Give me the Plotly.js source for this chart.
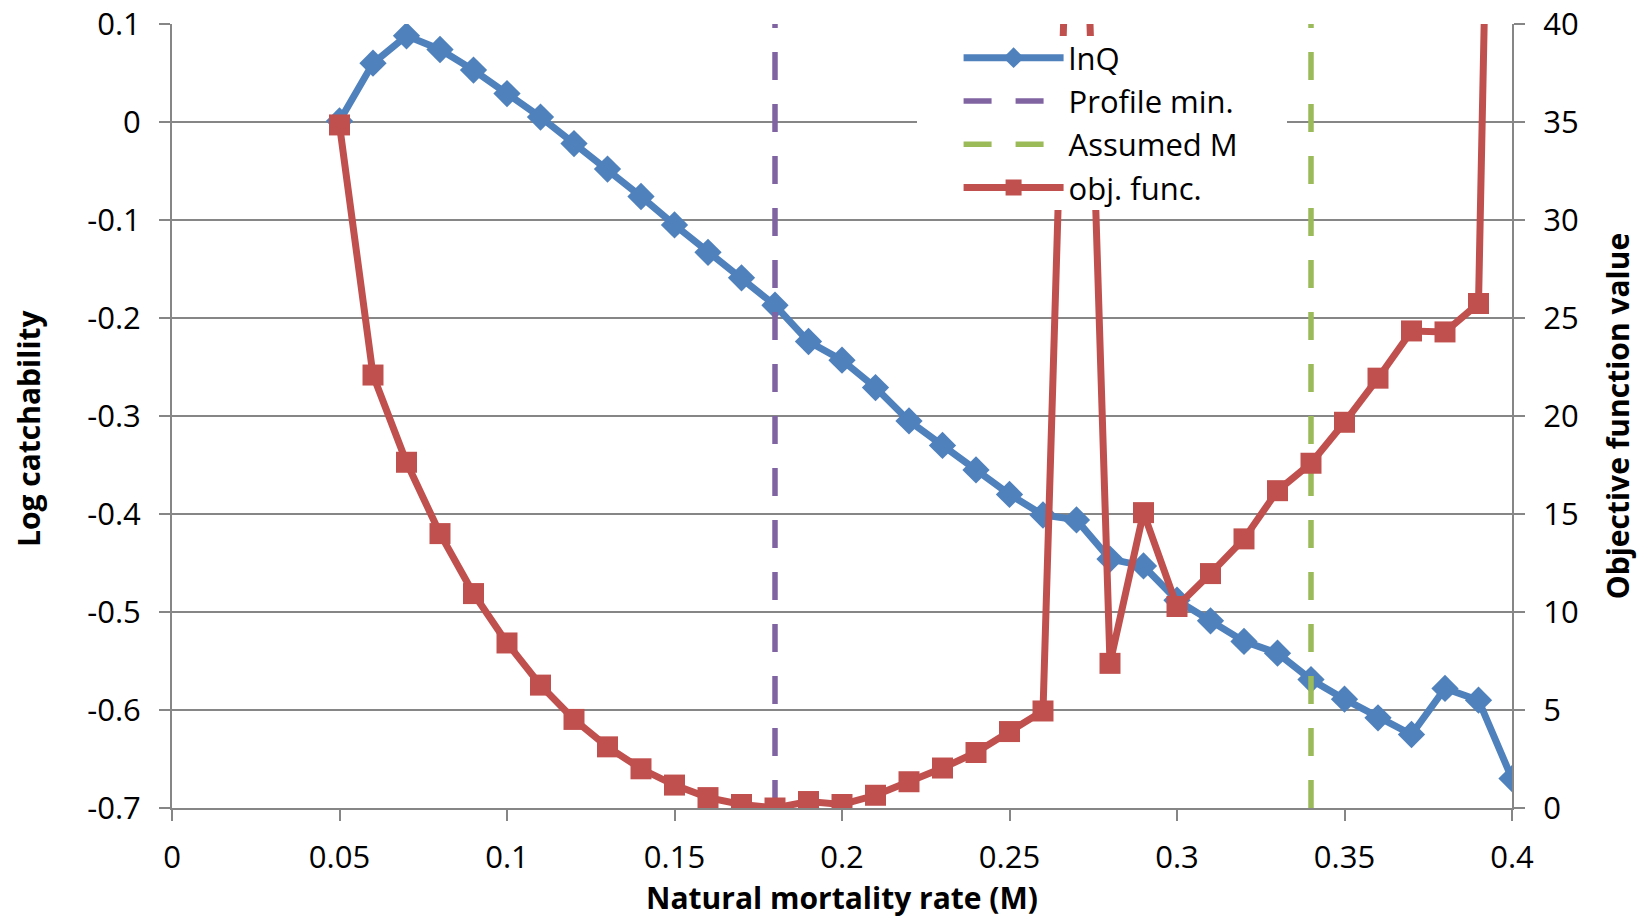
<!DOCTYPE html>
<html>
<head>
<meta charset="utf-8">
<script src="https://cdn.plot.ly/plotly-3.0.1.min.js"></script>
<style>
  html, body { margin: 0; padding: 0; background: #ffffff; }
  #chart { width: 1647px; height: 919px; }
</style>
</head>
<body>
<div id="chart"></div>
<script>
// Natural mortality profile: M grid, log catchability and objective function
const mortality = [0.05, 0.06, 0.07, 0.08, 0.09, 0.10, 0.11, 0.12, 0.13, 0.14,
                   0.15, 0.16, 0.17, 0.18, 0.19, 0.20, 0.21, 0.22, 0.23, 0.24,
                   0.25, 0.26, 0.27, 0.28, 0.29, 0.30, 0.31, 0.32, 0.33, 0.34,
                   0.35, 0.36, 0.37, 0.38, 0.39, 0.40];

const lnQ = [0.001, 0.060, 0.088, 0.074, 0.053, 0.029, 0.005, -0.022, -0.048, -0.076,
             -0.105, -0.133, -0.159, -0.187, -0.224, -0.243, -0.271, -0.305, -0.330, -0.355,
             -0.380, -0.401, -0.406, -0.446, -0.453, -0.488, -0.509, -0.530, -0.542, -0.569,
             -0.589, -0.608, -0.625, -0.578, -0.590, -0.670];

const objFunc = [34.85, 22.09, 17.64, 14.00, 10.94, 8.42, 6.27, 4.52, 3.12, 2.00,
                 1.17, 0.53, 0.18, 0.00, 0.33, 0.18, 0.65, 1.34, 2.04, 2.83,
                 3.90, 4.95, 62.0, 7.38, 15.07, 10.28, 11.96, 13.73, 16.19, 17.59,
                 19.68, 21.93, 24.34, 24.29, 25.74, 110.0];

const profileMin = 0.18;
const assumedM = 0.34;

const xTickVals = [0, 0.05, 0.1, 0.15, 0.2, 0.25, 0.3, 0.35, 0.4];
const xTickText = ['0', '0.05', '0.1', '0.15', '0.2', '0.25', '0.3', '0.35', '0.4'];
const yTickVals = [0.1, 0, -0.1, -0.2, -0.3, -0.4, -0.5, -0.6, -0.7];
const yTickText = ['0.1', '0', '-0.1', '-0.2', '-0.3', '-0.4', '-0.5', '-0.6', '-0.7'];
const y2TickVals = [0, 5, 10, 15, 20, 25, 30, 35, 40];
const y2TickText = ['0', '5', '10', '15', '20', '25', '30', '35', '40'];

const yRange = [-0.7, 0.1];
const y2Range = [0, 40];

const BLUE = '#4F81BD';
const RED = '#C0504D';
const PURPLE = '#8064A2';
const GREEN = '#9BBB59';
const GRID = '#868686';
const FONT = 'Open Sans, Liberation Sans, sans-serif';

const traces = [
  {
    x: mortality, y: lnQ, name: 'lnQ', type: 'scatter', mode: 'lines+markers',
    line: { color: BLUE, width: 7 },
    marker: { symbol: 'diamond', size: 21, color: BLUE },
    yaxis: 'y'
  },
  {
    x: [profileMin, profileMin], y: yRange, name: 'Profile min.', type: 'scatter', mode: 'lines',
    line: { color: PURPLE, width: 5.5, dash: '28px,24px' },
    yaxis: 'y'
  },
  {
    x: [assumedM, assumedM], y: yRange, name: 'Assumed M', type: 'scatter', mode: 'lines',
    line: { color: GREEN, width: 5.5, dash: '28px,24px' },
    yaxis: 'y'
  },
  {
    x: mortality, y: objFunc, name: 'obj. func.', type: 'scatter', mode: 'lines+markers',
    line: { color: RED, width: 7 },
    marker: { symbol: 'square', size: 21, color: RED },
    yaxis: 'y2'
  }
];

const axisCommon = {
  ticks: 'outside', ticklen: 11, tickwidth: 2, tickcolor: GRID,
  showline: true, linecolor: GRID, linewidth: 2,
  zeroline: false, fixedrange: true,
  tickfont: { family: FONT, size: 31, color: '#000000' }
};

const titleFont = { family: FONT, size: 30, color: '#000000', weight: 'bold' };

const layout = {
  width: 1647, height: 919,
  margin: { l: 172, r: 135, t: 24, b: 111, pad: 0 },
  paper_bgcolor: '#ffffff', plot_bgcolor: '#ffffff',
  font: { family: FONT, color: '#000000' },
  showlegend: true,
  legend: {
    x: 0.587, y: 0.991, xanchor: 'left', yanchor: 'top',
    bgcolor: 'rgba(255,255,255,0)', borderwidth: 0,
    font: { family: FONT, size: 31, color: '#000000' },
    itemwidth: 100, tracegroupgap: 0
  },
  xaxis: Object.assign({}, axisCommon, {
    range: [0, 0.4], tickvals: xTickVals, ticktext: xTickText,
    showgrid: false, ticklabelstandoff: 10,
    title: { text: 'Natural mortality rate (M)', standoff: 10, font: titleFont }
  }),
  yaxis: Object.assign({}, axisCommon, {
    range: yRange, tickvals: yTickVals, ticktext: yTickText,
    showgrid: true, gridcolor: GRID, gridwidth: 2,
    ticklabelstandoff: 12
  }),
  yaxis2: Object.assign({}, axisCommon, {
    range: y2Range, tickvals: y2TickVals, ticktext: y2TickText,
    overlaying: 'y', side: 'right', showgrid: false,
    ticklabelstandoff: 12,
    title: { text: 'Objective function value', standoff: 30, font: titleFont }
  }),
  annotations: [
    // left axis title, set slightly below the plot's vertical centre
    { text: 'Log catchability', xref: 'paper', yref: 'paper',
      x: (29 - 172) / 1340, y: 1 - (428 - 24) / 784,
      xanchor: 'center', yanchor: 'middle', textangle: -90,
      showarrow: false, font: titleFont }
  ],
  shapes: [
    // white panel behind the legend entries
    { type: 'rect', xref: 'paper', yref: 'paper', layer: 'above',
      x0: (917 - 172) / 1340, x1: (1287 - 172) / 1340,
      y0: 1 - (210 - 24) / 784, y1: 1 - (36 - 24) / 784,
      fillcolor: '#ffffff', line: { width: 0 } }
  ]
};

Plotly.newPlot('chart', traces, layout, { displayModeBar: false, staticPlot: true });
</script>
</body>
</html>
